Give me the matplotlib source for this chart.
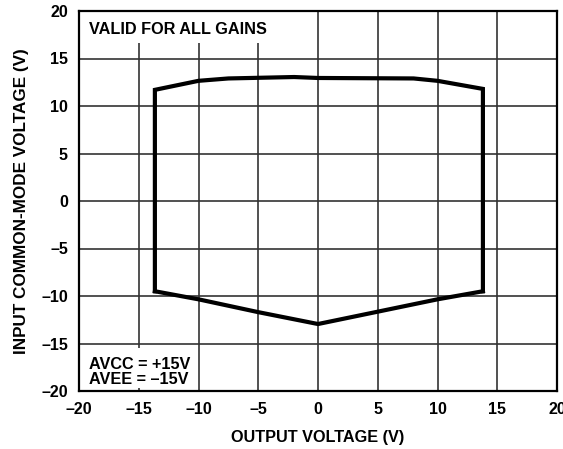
import matplotlib
matplotlib.use("Agg")
from matplotlib import pyplot as plt
from matplotlib.patches import Rectangle

# upper edge of the common-mode range (V)
top_vout = [-13.65, -13.65, -10.0, -7.5, -2.0, 0.0, 8.0, 10.0, 13.8, 13.8]
top_vcm = [-9.5, 11.7, 12.65, 12.9, 13.05, 12.95, 12.9, 12.65, 11.8, -9.5]

# lower edge of the common-mode range (V)
bot_vout = [-13.65, -10.0, -5.0, 0.0, 5.0, 10.0, 13.8]
bot_vcm = [-9.5, -10.35, -11.7, -12.95, -11.65, -10.35, -9.5]

ticks = [-20, -15, -10, -5, 0, 5, 10, 15, 20]
tick_labels = [str(t).replace("-", "\u2013") for t in ticks]

plt.rcParams['font.family'] = ['Liberation Sans', 'DejaVu Sans']
plt.rcParams['font.weight'] = 'bold'

fig = plt.figure(figsize=(5.63, 4.49), dpi=100)
ax = fig.add_axes([79 / 563, 1 - 391 / 449, 478 / 563, 380 / 449])

ax.set_xlim(-20, 20)
ax.set_ylim(-20, 20)
ax.set_xticks(ticks)
ax.set_yticks(ticks)
ax.set_xticklabels(tick_labels, fontsize=11.5, fontweight='bold')
ax.set_yticklabels(tick_labels, fontsize=11.5, fontweight='bold')
ax.tick_params(length=0, pad=8)
ax.grid(True, color='#333333', linewidth=1.2, zorder=1)
ax.set_axisbelow(True)
for s in ax.spines.values():
    s.set_linewidth(1.6)
    s.set_color('black')

# white boxes behind the notes hide the grid
ax.add_patch(Rectangle((-20, 16.6), 17, 3.4, facecolor='white', edgecolor='none', zorder=2))
ax.add_patch(Rectangle((-20, -19.7), 9, 4.2, facecolor='white', edgecolor='none', zorder=2))

ax.plot(top_vout, top_vcm, color='black', linewidth=3, solid_joinstyle='miter', zorder=3)
ax.plot(bot_vout, bot_vcm, color='black', linewidth=3, solid_joinstyle='miter', zorder=3)

ax.text(-19.2, 18.1, "VALID FOR ALL GAINS", fontsize=11.7, fontweight='bold',
        va='center', ha='left', zorder=4)
ax.text(-19.2, -18.0, "AVCC = +15V\nAVEE = \u201315V", fontsize=11.7, fontweight='bold',
        va='center', ha='left', linespacing=0.95, zorder=4)

ax.set_xlabel("OUTPUT VOLTAGE (V)", fontsize=11.7, fontweight='bold', labelpad=9)
ax.set_ylabel("INPUT COMMON-MODE VOLTAGE (V)", fontsize=12.3, fontweight='bold', labelpad=9)

fig.savefig("out.png", dpi=100)
